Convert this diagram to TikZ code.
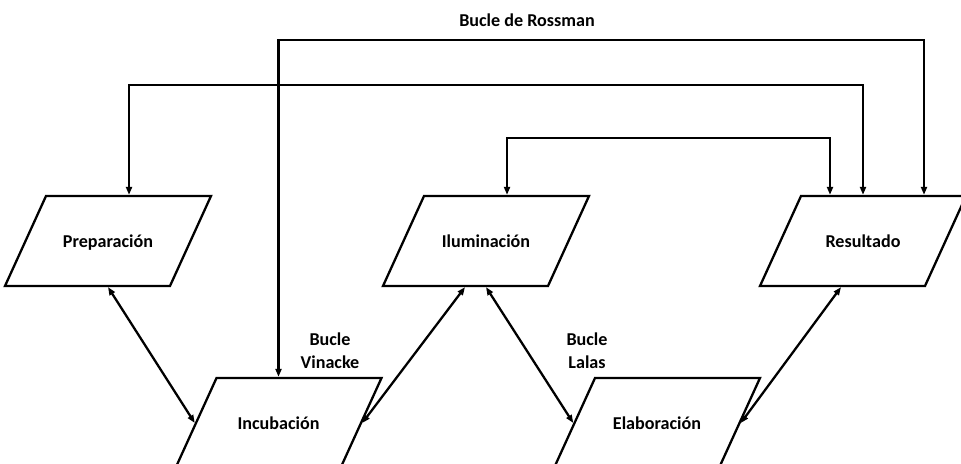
\documentclass[tikz,border=0pt]{standalone}
\usepackage{fontspec}
\setmainfont{Carlito}
\usetikzlibrary{shapes.geometric,arrows.meta}

\tikzset{
	etapa/.style={trapezium, trapezium left angle=65.5, trapezium right angle=114.5, trapezium stretches body, draw, line width=1.3pt, minimum width=4.12cm, text height=0.34cm, text depth=0.06cm, inner ysep=0.7cm, inner xsep=0pt, font=\bfseries\fontsize{10.3}{13}\selectfont},
	flecha/.style={{Triangle[length=0.16cm,width=0.12cm]}-{Triangle[length=0.16cm,width=0.12cm]}, line width=1.3pt},
	rotulo/.style={align=center, font=\bfseries\fontsize{10.3}{13}\selectfont}
}

\begin{document}
\begin{tikzpicture}
	\useasboundingbox (0, 0) rectangle (19.22, -9.28);
	\clip (0, 0) rectangle (19.22, -9.28);

	% etapas
	\node[etapa] (prep)   at (2.16, -4.82)  {Preparación};
	\node[etapa] (ilum)   at (9.72, -4.82)  {Iluminación};
	\node[etapa] (res)    at (17.26, -4.82) {Resultado};
	\node[etapa] (incub)  at (5.57, -8.46)  {Incubación};
	\node[etapa] (elab)   at (13.14, -8.46) {Elaboración};

	% rotulos
	\node[rotulo] (rossman) at (10.54, -0.40) {Bucle de Rossman};
	\node[rotulo] (vinacke) at (6.60, -7.01)  {Bucle\\Vinacke};
	\node[rotulo] (lalas)   at (11.74, -7.01) {Bucle\\Lalas};

	% bucles de arriba
	\draw[flecha] (incub.north) -- (incub.north |- 0, -0.80) -| ([xshift=1.22cm]res.north);
	\draw[flecha] (prep.top side) -- (prep.top side |- 0, -1.70) -| (res.north);
	\draw[flecha] (ilum.top side) -- (ilum.top side |- 0, -2.76) -| ([xshift=-0.66cm]res.north);

	% enlaces de abajo
	\draw[flecha] (prep.south) -- (incub.left side);
	\draw[flecha] (incub.right side) -- ([xshift=-0.42cm]ilum.south);
	\draw[flecha] (ilum.south) -- (elab.left side);
	\draw[flecha] (elab.right side) -- ([xshift=-0.44cm]res.south);

\end{tikzpicture}
\end{document}
